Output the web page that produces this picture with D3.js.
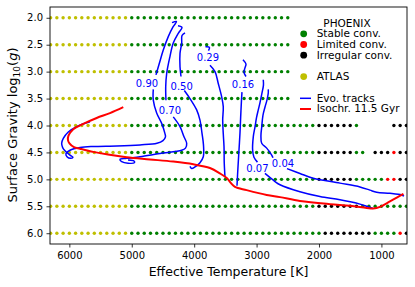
<!DOCTYPE html>
<html>
<head>
<meta charset="utf-8">
<style>
  body { margin: 0; background: #fff; }
  svg { display: block; font-family: "DejaVu Sans", sans-serif; }
  .axis text { font-size: 10px; fill: #000; font-family: "DejaVu Sans", sans-serif; }
  .axis path { display: none; }
  .axis line { stroke: #000; stroke-width: 0.8px; }
</style>
</head>
<body>
<script src="https://cdn.jsdelivr.net/npm/d3@7"></script>
<script>
// model grid rows
const gravities = [2.0, 2.5, 3.0, 3.5, 4.0, 4.5, 5.0, 5.5, 6.0];
const gridStep = 100;
// ATLAS covers the hot end of every row
const atlasRun = [6300, 5100];
// PHOENIX runs per row: [from, to, flag]  s = stable, l = limited, i = irregular
const phoenixRuns = [
  [[5000, 2500, "s"]],
  [[5000, 2500, "s"]],
  [[5000, 2500, "s"]],
  [[5000, 2500, "s"]],
  [[5000, 2100, "s"], [2000, 1500, "i"], [1400, 1400, "s"], [800, 600, "i"]],
  [[5000, 2100, "s"], [2000, 1500, "i"], [1400, 1300, "s"], [1100, 900, "i"], [800, 800, "l"], [700, 600, "i"]],
  [[5000, 2100, "s"], [2000, 1500, "i"], [1400, 1000, "s"], [900, 800, "l"], [700, 600, "i"]],
  [[5000, 2100, "s"], [2000, 1400, "i"], [1300, 600, "s"]],
  [[5000, 2000, "s"], [1900, 1200, "i"], [1100, 800, "s"], [700, 700, "l"], [600, 600, "i"]]
];

// evolutionary tracks [Teff, log g]; null = gap where the mass label sits
const trackMasses = ["0.90", "0.70", "0.50", "0.29", "0.16", "0.07", "0.04"];
const labelAt = [[4756, 3.22], [4388, 3.72], [4200, 3.27], [3779, 2.74], [3218, 3.23], [2986, 4.79], [2577, 4.70]];
const track090 = [[4355,2.09],[4283,2.07],[4339,2.17],[4415,2.35],[4495,2.60],[4559,2.85],[4612,3.06], null,
  [4655,3.33],[4655,3.53],[4601,3.77],[4521,3.96],[4468,4.15],[4460,4.21],[4500,4.28],[4596,4.33],[4868,4.36],
  [5237,4.38],[5621,4.39],[5829,4.41],[5990,4.46],[6054,4.52],[6038,4.58],[5974,4.61],[5942,4.59],[5990,4.55],
  [6070,4.47],[6107,4.41],[6123,4.33],[6097,4.24],[6017,4.12],[5882,4.02],[5669,3.93]];
const track070 = [[4259,2.15],[4195,2.18],[4255,2.29],[4335,2.47],[4388,2.72],[4440,3.03],[4456,3.28],[4452,3.53], null,
  [4335,3.84],[4227,4.02],[4163,4.21],[4120,4.33],[4139,4.42],[4200,4.46],[4548,4.52],[4868,4.58],[5081,4.61],
  [5189,4.63],[5161,4.67],[5060,4.70],[4956,4.69],[4964,4.66],[5060,4.64]];
const track050 = [[4147,2.28],[4195,2.33],[4200,2.47],[4227,2.66],[4227,2.91],[4211,3.09], null,
  [4158,3.35],[4067,3.50],[3960,3.71],[3907,3.90],[3875,4.14],[3851,4.36],[3854,4.58],[3907,4.69],[3987,4.77],
  [4040,4.80],[4067,4.76]];
const track029 = [[3819,2.54],[3755,2.55],[3771,2.61], null,
  [3747,2.88],[3666,3.00],[3614,3.22],[3559,3.47],[3534,3.65],[3543,3.90],[3534,4.15],[3522,4.39],[3518,4.70],[3506,4.96]];
const track016 = [[3218,2.78],[3170,2.86],[3186,2.93],[3202,3.01],[3170,3.09], null,
  [3234,3.38],[3242,3.53],[3255,3.84],[3266,4.14],[3282,4.46],[3298,4.77],[3314,5.12]];
const track007 = [[2893,3.15],[2890,3.25],[2914,3.40],[2946,3.58],[2973,3.71],[3002,3.86],[3026,4.03],[3053,4.21],
  [3063,4.46],[3042,4.59],[2986,4.68], null,
  [2866,4.89],[2705,5.04],[2625,5.10],[2305,5.23],[1985,5.32],[1664,5.38],[1344,5.46],[1211,5.51],[1131,5.54]];
const track004 = [[2813,3.33],[2813,3.40],[2834,3.53],[2866,3.66],[2898,3.81],[2918,4.03],[2930,4.18],[2918,4.33],
  [2838,4.42],[2758,4.55],[2737,4.60], null,
  [2513,4.80],[2305,4.89],[2092,4.98],[1664,5.07],[1344,5.14],[1184,5.20],[1076,5.24],[863,5.26],[676,5.29],[639,5.31]];
const tracks = [track090, track070, track050, track029, track016, track007, track004];

// 11.5 Gyr isochrone
const isochrone = [[5136,3.66],[5349,3.77],[5562,3.86],[5777,3.97],[5937,4.07],[6014,4.19],[6022,4.27],[5998,4.33],
  [5926,4.40],[5829,4.43],[5616,4.49],[5381,4.54],[5081,4.59],[4708,4.63],[4335,4.67],[4014,4.72],[3747,4.79],
  [3587,4.89],[3474,4.98],[3410,5.07],[3346,5.14],[3159,5.20],[2838,5.29],[2625,5.33],[2305,5.40],[1824,5.46],
  [1504,5.49],[1236,5.53],[1131,5.54],[1023,5.51],[863,5.41],[676,5.29],[647,5.27]];

const xTicks = [6000, 5000, 4000, 3000, 2000, 1000];
const yTicks = [2.0, 2.5, 3.0, 3.5, 4.0, 4.5, 5.0, 5.5, 6.0];

const colors = { s: "#008000", l: "#ff0000", i: "#000000", a: "#bfbf00", track: "#0000ff", iso: "#ff0000" };

const svg = d3.select("body").append("svg").attr("width", 415).attr("height", 287);

const x = d3.scaleLinear().domain([6310, 590]).range([50, 407]);
const y = d3.scaleLinear().domain([1.8, 6.2]).range([7, 244]);

svg.append("clipPath").attr("id", "plot")
  .append("rect").attr("x", 50).attr("y", 7).attr("width", 357).attr("height", 237);

// grid points
const points = [];
gravities.forEach((g, i) => {
  for (let t = atlasRun[0]; t >= atlasRun[1]; t -= gridStep) points.push({ t, g, f: "a" });
  phoenixRuns[i].forEach(([a, b, f]) => {
    for (let t = a; t >= b; t -= gridStep) points.push({ t, g, f });
  });
});

const plot = svg.append("g").attr("clip-path", "url(#plot)");

plot.selectAll(".dot").data(points).enter().append("circle")
  .attr("cx", d => x(d.t)).attr("cy", d => y(d.g)).attr("r", 1.7)
  .attr("fill", d => colors[d.f]);

const line = d3.line().defined(d => d)
  .x(d => x(d[0])).y(d => y(d[1]))
  .curve(d3.curveCatmullRom.alpha(0.5));

plot.selectAll(".track").data(tracks).enter().append("path")
  .attr("d", line).attr("fill", "none")
  .attr("stroke", colors.track).attr("stroke-width", 1.5);

plot.append("path").datum(isochrone)
  .attr("d", line).attr("fill", "none")
  .attr("stroke", colors.iso).attr("stroke-width", 2);

svg.selectAll(".mass").data(trackMasses).enter().append("text")
  .attr("x", (d, i) => x(labelAt[i][0])).attr("y", (d, i) => y(labelAt[i][1]))
  .attr("dy", "0.36em").attr("text-anchor", "middle")
  .attr("font-size", 10).attr("fill", colors.track)
  .text(d => d);

// axes
svg.append("g").attr("class", "axis").attr("transform", "translate(0,244)")
  .call(d3.axisBottom(x).tickValues(xTicks).tickSize(3.5).tickPadding(4.5).tickFormat(d3.format("d")));
svg.append("g").attr("class", "axis").attr("transform", "translate(50,0)")
  .call(d3.axisLeft(y).tickValues(yTicks).tickSize(3.5).tickPadding(3.5).tickFormat(d3.format(".1f")));

svg.append("rect").attr("x", 50).attr("y", 7).attr("width", 357).attr("height", 237)
  .attr("fill", "none").attr("stroke", "#000").attr("stroke-width", 0.9);

svg.append("text").attr("x", 228.5).attr("y", 276).attr("text-anchor", "middle")
  .attr("font-size", 12.5).text("Effective Temperature [K]");

const yl = svg.append("text").attr("transform", "translate(17,125) rotate(-90)")
  .attr("text-anchor", "middle").attr("font-size", 13);
yl.append("tspan").text("Surface Gravity log");
yl.append("tspan").attr("font-size", 9).attr("dy", 2.6).text("10");
yl.append("tspan").attr("dy", -2.6).text("(");
yl.append("tspan").attr("font-style", "italic").text("g");
yl.append("tspan").text(")");

// legend
const legendRows = [
  { row: 0, kind: "dot", key: "s", label: "Stable conv." },
  { row: 1, kind: "dot", key: "l", label: "Limited conv." },
  { row: 2, kind: "dot", key: "i", label: "Irregular conv." },
  { row: 4, kind: "dot", key: "a", label: "ATLAS" },
  { row: 6, kind: "line", key: "track", label: "Evo. tracks" },
  { row: 7, kind: "line", key: "iso", label: "Isochr. 11.5 Gyr" }
];
const lg = svg.append("g").attr("font-size", 10.5);
lg.append("text").attr("x", 347).attr("y", 26.6).attr("text-anchor", "middle").text("PHOENIX");
const item = lg.selectAll(".item").data(legendRows).enter().append("g")
  .attr("transform", d => `translate(0,${37.4 + d.row * 10.7})`);
item.filter(d => d.kind === "dot").append("circle")
  .attr("cx", 303.7).attr("cy", -3.6).attr("r", 3.4).attr("fill", d => colors[d.key]);
item.filter(d => d.kind === "line").append("line")
  .attr("x1", 300).attr("x2", 311).attr("y1", -3.3).attr("y2", -3.3)
  .attr("stroke", d => colors[d.key]).attr("stroke-width", d => d.key === "iso" ? 2 : 1.5);
item.append("text").attr("x", 316.7).attr("y", 0).text(d => d.label);
</script>
</body>
</html>
